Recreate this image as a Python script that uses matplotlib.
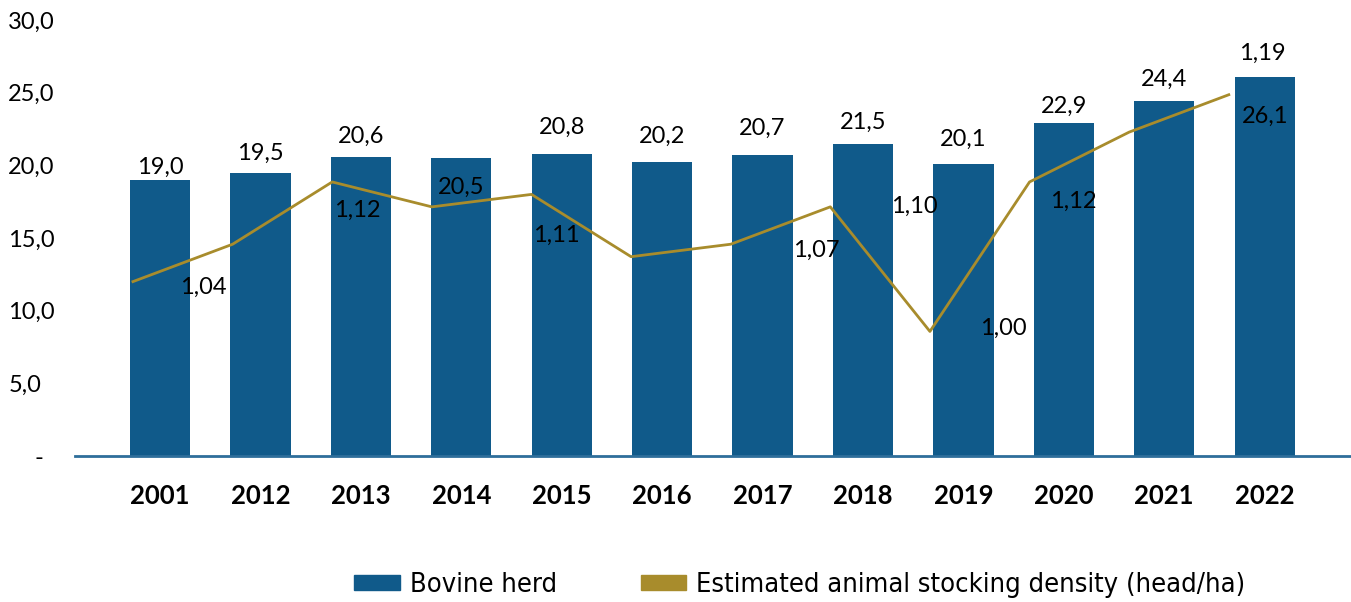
import matplotlib
matplotlib.use("Agg")
import matplotlib.pyplot as plt
from matplotlib.patches import Patch

# data
years = ["2001", "2012", "2013", "2014", "2015", "2016",
         "2017", "2018", "2019", "2020", "2021", "2022"]
herd = [19.0, 19.5, 20.6, 20.5, 20.8, 20.2, 20.7, 21.5, 20.1, 22.9, 24.4, 26.1]
density = [1.04, 1.07, 1.12, 1.10, 1.11, 1.06, 1.07, 1.10, 1.00, 1.12, 1.16, 1.19]
density_shown = [True, False, True, False, True, False, True, True, True, True, False, True]

# label placement (pixels), as the original chart has them
bar_lab_dy = [13, 19, 20, -29, 26, 26, 27, 21, 25, 17, 22, -40]
line_lab_off = [(70, -6), None, (25, -28), None, (25, -41), None,
                (86, -6), (84, 1), (73, 3), (44, -19), None, (34, 41)]

blue = "#105A8A"
gold = "#A88C2C"
font = "Lato"
fs = 17

plt.rcParams["font.family"] = [font, "DejaVu Sans"]

fig = plt.figure(figsize=(13.51, 6.02), dpi=100)
pos = [0.0555, 0.2425, 0.944, 0.7243]
ax = fig.add_axes(pos)

x = list(range(len(years)))
ax.bar(x, herd, width=0.6, color=blue, zorder=2)
ax.set_xlim(-0.847, 11.853)
ax.set_ylim(0, 30)

for s in ["top", "right", "left"]:
    ax.spines[s].set_visible(False)
ax.spines["bottom"].set_color("#2E6E9A")
ax.spines["bottom"].set_linewidth(2)

ax.set_xticks(x)
ax.set_xticklabels(years, fontsize=18.5, fontweight="bold")
ax.tick_params(axis="x", length=0, pad=20)
yt = [0, 5, 10, 15, 20, 25, 30]
ax.set_yticks(yt)
ax.set_yticklabels([""] + [f"{v:.1f}".replace(".", ",") for v in yt[1:]],
                   fontsize=fs, ha="left")
ax.tick_params(axis="y", length=0, pad=48)
# zero shown as "-" further right, like the accounting format
ax.annotate("-", (0, yt[0]), xycoords=ax.get_yaxis_transform(),
            xytext=(-36, 0), textcoords="offset pixels",
            ha="center", va="center_baseline", fontsize=fs)

for i, v in enumerate(herd):
    ax.annotate(f"{v:.1f}".replace(".", ","), (i, v), xytext=(0, bar_lab_dy[i]),
                textcoords="offset pixels", ha="center", va="center",
                fontsize=fs, zorder=5)

# secondary axis for the stocking density line
ax2 = fig.add_axes(pos)
ax2.patch.set_visible(False)
ax2.set_xlim(-0.582, 12.22)
ax2.set_ylim(0.90, 1.25)
ax2.axis("off")
ax2.plot(x, density, color=gold, lw=2, zorder=3)
for i, v in enumerate(density):
    if density_shown[i]:
        ax2.annotate(f"{v:.2f}".replace(".", ","), (i, v), xytext=line_lab_off[i],
                     textcoords="offset pixels", ha="center", va="center",
                     fontsize=fs)

handles = [Patch(color=blue, label="Bovine herd"),
           Patch(color=gold, label="Estimated animal stocking density (head/ha)")]
fig.legend(handles=handles, loc="center", bbox_to_anchor=(0.592, 0.028), ncol=2,
           frameon=False, handlelength=1.67, handleheight=0.52, handletextpad=0.37,
           columnspacing=3.1,
           prop={"family": "DejaVu Sans", "stretch": "condensed", "size": 19.5})

fig.savefig("out.png", dpi=100)
